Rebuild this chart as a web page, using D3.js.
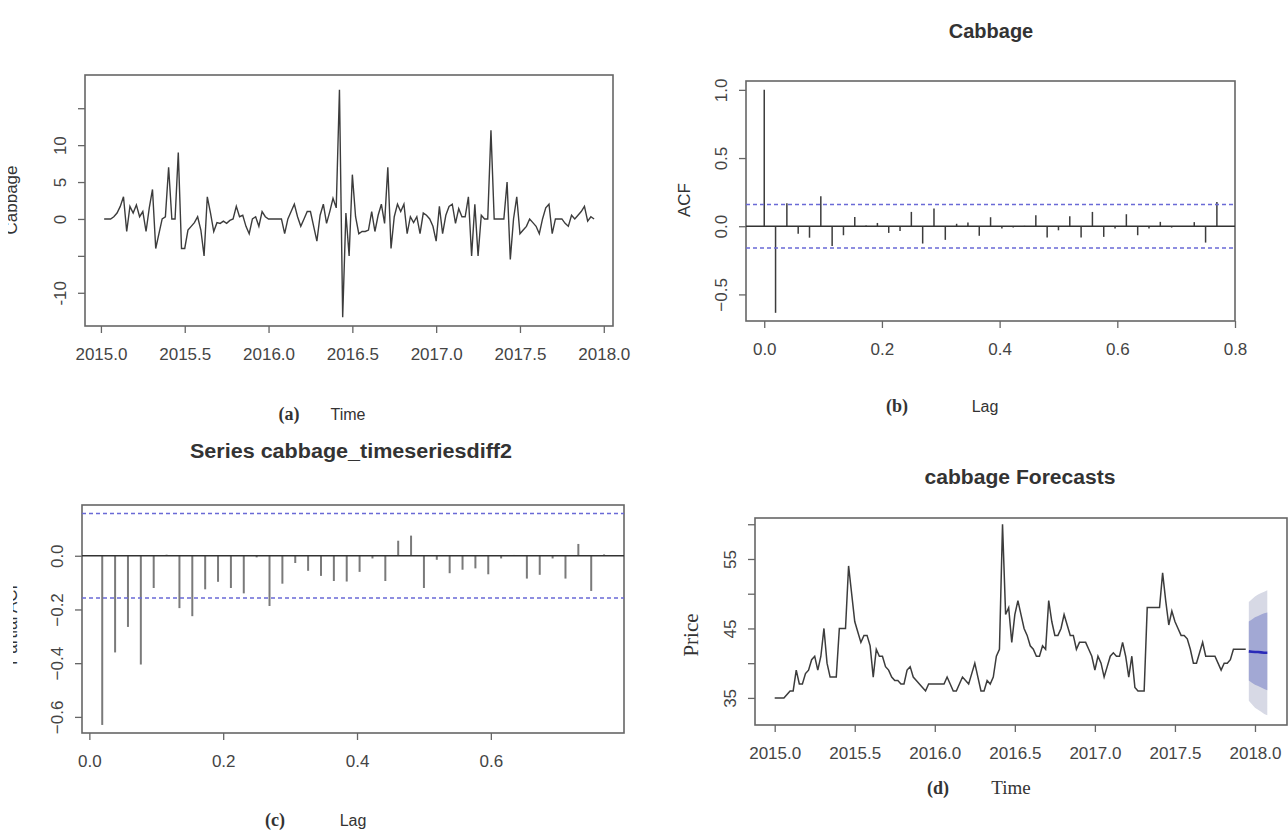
<!DOCTYPE html>
<html>
<head>
<meta charset="utf-8">
<script src="https://cdnjs.cloudflare.com/ajax/libs/d3/7.8.5/d3.min.js"></script>
<style>
body { margin: 0; background: #fff; }
svg { display: block; }
.tick text { font-family: "Liberation Sans", Arial, sans-serif; font-size: 17px; fill: #444; }
.tick line { stroke: #666; stroke-width: 1.3; }
</style>
</head>
<body>
<div id="chart"></div>
<script>
// weekly series, start 2015, frequency 52
var startYear = 2015, freq = 52;

// (a) first difference of cabbage price, weeks 1..153
var cabbageDiff = [
  0, 0, 0, 0.3, 0.8, 1.7, 3, -1.7, 1.7, 0.8,
  1.9, 0.3, 1, -1.7, 1.5, 4, -4, -2, 0, 0.3,
  7, 0, 0, 9, -4, -4, -1.5, -1, -0.5, 0.3,
  -1.5, -5, 3, 0.8, -1.7, -0.5, -0.6, -0.3, -0.6, -0.2,
  0, 1.7, 0.3, 0.5, -1, -2, 0, 0.3, -1, 1,
  0.3, 0, 0, 0, 0, 0, -2, 0, 1, 2,
  0.3, -1, 0, 1, 1, -1, -3, 0.5, 2, -0.6,
  1, 2.8, 1.5, 17.5, -13.3, 0.8, -5, 6, 0.3, -2,
  -1.7, -1.7, -1.5, 1, -1.7, 0.5, 2, -0.6, 7, -4,
  0.3, 2, 1, 2, -2, 0.3, -0.5, 0.3, -2, 0.8,
  0.5, 0, -1, -3, 1.7, -2, 0.5, 1.7, 2, -0.6,
  1.4, 0.3, 0.3, 3, -5, 2, -5, 0.5, 0, 0,
  12, 0, 0, 0, 0, 5, -5.5, 0, 3, -2,
  -1.5, -1, 0, -0.5, -1, -2, 0, 1.5, 2, -2,
  0, 0, 0, -0.6, -1, 0.5, 0, 0.5, 1, 1.7,
  -0.3, 0.3, 0
];

// (b) ACF, lags 0..40
var acfValues = [1.0, -0.635, 0.168, -0.056, -0.084, 0.22, -0.145, -0.066, 0.068, 0.005,
  0.024, -0.049, -0.035, 0.105, -0.127, 0.13, -0.1, 0.018, 0.027, -0.07,
  0.066, -0.017, -0.01, 0.003, 0.08, -0.083, -0.03, 0.073, -0.083, 0.105,
  -0.078, -0.017, 0.088, -0.066, -0.017, 0.032, -0.01, -0.005, 0.03, -0.12, 0.178];
var acfBound = 0.16;

// (c) partial ACF, lags 1..40
var pacfValues = [-0.63, -0.36, -0.265, -0.405, -0.12, 0.004, -0.195, -0.225, -0.125, -0.097,
  -0.12, -0.14, -0.006, -0.187, -0.104, -0.027, -0.056, -0.075, -0.094, -0.096,
  -0.06, -0.01, -0.094, 0.056, 0.075, -0.12, -0.015, -0.065, -0.052, -0.047,
  -0.069, -0.01, 0.003, -0.085, -0.071, -0.01, -0.085, 0.044, -0.131, 0.005];
var pacfBound = 0.157;

// (d) price, weeks 0..153, then 7 week forecast
var price = [
  35, 35, 35, 35, 35.5, 36, 36, 39, 37, 37,
  38.5, 39, 40.5, 41, 39, 41, 45, 40, 38, 38,
  38, 45, 45, 45, 54, 50, 46, 44.5, 43, 44,
  44, 42.5, 38, 42, 41, 41, 39.5, 39, 38, 37.5,
  37.5, 37, 37, 39, 39.5, 38, 37.5, 37, 36.5, 36,
  37, 37, 37, 37, 37, 37, 38, 37, 36, 36,
  37, 38, 37.5, 37, 38.5, 40, 38, 36, 36, 37.5,
  37, 38, 41, 42, 60, 47, 48, 43, 47, 49,
  47, 45, 44, 42.5, 42, 41, 41, 42.5, 42, 49,
  46, 44, 44, 45, 47, 45.5, 44, 44, 42, 43,
  43, 43, 42, 41, 39, 41, 40, 38, 39.5, 41,
  41.5, 41, 41, 43, 41, 38, 41, 36.5, 36, 36,
  36, 48, 48, 48, 48, 48, 53, 49, 45.5, 47.5,
  46, 45, 44, 44, 43.5, 42, 40, 40, 41.5, 43,
  41, 41, 41, 41, 40, 39, 40, 40, 40.5, 42,
  42, 42, 42, 42
];
var fcMean = [41.7, 41.65, 41.6, 41.6, 41.55, 41.5, 41.5];
var fcLo80 = [37.5, 37.2, 36.9, 36.7, 36.5, 36.3, 36.1];
var fcHi80 = [46.0, 46.3, 46.6, 46.8, 47.0, 47.2, 47.3];
var fcLo95 = [34.6, 34.1, 33.6, 33.3, 33.0, 32.7, 32.5];
var fcHi95 = [48.8, 49.2, 49.6, 49.9, 50.1, 50.3, 50.5];

// tick values and labels
var yearTicks = [2015, 2015.5, 2016, 2016.5, 2017, 2017.5, 2018];
var diffTicks = [-10, -5, 0, 5, 10, 15], diffLabels = [-10, 0, 5, 10];
var lagTicksB = [0, 0.2, 0.4, 0.6, 0.8];
var lagTicksC = [0, 0.2, 0.4, 0.6];
var acfTicks = [-0.5, 0, 0.5, 1];
var pacfTicks = [-0.6, -0.4, -0.2, 0];
var priceTicks = [35, 40, 45, 50, 55, 60], priceLabels = [35, 45, 55];

var sans = '"Liberation Sans", Arial, sans-serif';
var serif = '"Liberation Serif", "Times New Roman", serif';

var svg = d3.select("#chart").append("svg")
  .attr("width", 1288)
  .attr("height", 832);

// the y labels of (a) and (c) are cut by the page edge in the original
var defs = svg.append("defs");
defs.append("clipPath").attr("id", "clipA").append("rect")
  .attr("x", 8).attr("y", 100).attr("width", 40).attr("height", 200);
defs.append("clipPath").attr("id", "clipC").append("rect")
  .attr("x", 13).attr("y", 540).attr("width", 40).attr("height", 160);

function panel(box, xDomain, yDomain) {
  return {
    box: box,
    x: d3.scaleLinear().domain(xDomain).range([box.left, box.right]),
    y: d3.scaleLinear().domain(yDomain).range([box.bottom, box.top])
  };
}

function axes(p, xTicks, xFmt, yTicks, yFmt) {
  svg.append("g")
    .attr("transform", "translate(0," + p.box.bottom + ")")
    .call(d3.axisBottom(p.x).tickValues(xTicks).tickFormat(xFmt).tickSize(7).tickPadding(15))
    .call(function (g) { g.select(".domain").remove(); });

  var ya = svg.append("g")
    .attr("transform", "translate(" + p.box.left + ",0)")
    .call(d3.axisLeft(p.y).tickValues(yTicks).tickFormat(yFmt).tickSize(7))
    .call(function (g) { g.select(".domain").remove(); });
  ya.selectAll(".tick text")
    .attr("transform", "rotate(-90)")
    .attr("x", 0).attr("y", -19).attr("dy", 0)
    .attr("text-anchor", "middle");

  svg.append("rect")
    .attr("x", p.box.left).attr("y", p.box.top)
    .attr("width", p.box.right - p.box.left)
    .attr("height", p.box.bottom - p.box.top)
    .attr("fill", "none").attr("stroke", "#666").attr("stroke-width", 1.6);
}

function label(x, y, txt, font, size, weight) {
  return svg.append("text")
    .attr("x", x).attr("y", y)
    .attr("text-anchor", "middle")
    .style("font-family", font).style("font-size", size + "px")
    .style("font-weight", weight || "normal")
    .style("fill", "#333")
    .text(txt);
}

function vlabel(x, y, txt, font, size, clip) {
  var g = svg.append("g");
  if (clip) g.attr("clip-path", "url(#" + clip + ")");
  return g.append("text")
    .attr("transform", "translate(" + x + "," + y + ") rotate(-90)")
    .attr("text-anchor", "middle")
    .style("font-family", font).style("font-size", size + "px")
    .style("fill", "#333")
    .text(txt);
}

function fmtOne(d) { return d3.format(".1f")(d); }

// ---------- (a) differenced series ----------
var pa = panel({ left: 85, right: 613, top: 75, bottom: 326 }, [2014.905, 2018.055], [-14.5, 19.5]);
axes(pa, yearTicks, fmtOne, diffTicks, function (d) { return diffLabels.indexOf(d) >= 0 ? d : ""; });

svg.append("path")
  .datum(cabbageDiff)
  .attr("fill", "none")
  .attr("stroke", "#3c3c3c")
  .attr("stroke-width", 1.4)
  .attr("d", d3.line()
    .x(function (d, i) { return pa.x(startYear + (i + 1) / freq); })
    .y(function (d) { return pa.y(d); }));

vlabel(17, 200, "Cabbage", sans, 17, "clipA");
label(289, 420, "(a)", serif, 18, "bold");
label(348, 420, "Time", sans, 16);

// ---------- (b) ACF ----------
var pb = panel({ left: 746, right: 1235, top: 81, bottom: 321 }, [-0.031, 0.8], [-0.695, 1.065]);
axes(pb, lagTicksB, fmtOne, acfTicks, fmtOne);

svg.append("g").selectAll("line")
  .data(acfValues)
  .enter().append("line")
  .attr("x1", function (d, i) { return pb.x(i / freq); })
  .attr("x2", function (d, i) { return pb.x(i / freq); })
  .attr("y1", pb.y(0))
  .attr("y2", function (d) { return pb.y(d); })
  .attr("stroke", "#3c3c3c").attr("stroke-width", 1.5);

svg.append("line")
  .attr("x1", pb.box.left).attr("x2", pb.box.right)
  .attr("y1", pb.y(0)).attr("y2", pb.y(0))
  .attr("stroke", "#333").attr("stroke-width", 1.6);

[acfBound, -acfBound].forEach(function (b) {
  svg.append("line")
    .attr("x1", pb.box.left).attr("x2", pb.box.right)
    .attr("y1", pb.y(b)).attr("y2", pb.y(b))
    .attr("stroke", "#6a6ad6").attr("stroke-width", 1.5)
    .attr("stroke-dasharray", "4,3");
});

label(991, 38, "Cabbage", sans, 20, "bold");
vlabel(690, 200, "ACF", sans, 17);
label(897, 412, "(b)", serif, 18, "bold");
label(985, 412, "Lag", sans, 16);

// ---------- (c) partial ACF ----------
var pc = panel({ left: 82, right: 624, top: 505, bottom: 733 }, [-0.011, 0.799], [-0.66, 0.189]);
axes(pc, lagTicksC, fmtOne, pacfTicks, fmtOne);

svg.append("g").selectAll("line")
  .data(pacfValues)
  .enter().append("line")
  .attr("x1", function (d, i) { return pc.x((i + 1) / freq); })
  .attr("x2", function (d, i) { return pc.x((i + 1) / freq); })
  .attr("y1", pc.y(0))
  .attr("y2", function (d) { return pc.y(d); })
  .attr("stroke", "#7a7a7a").attr("stroke-width", 2);

svg.append("line")
  .attr("x1", pc.box.left).attr("x2", pc.box.right)
  .attr("y1", pc.y(0)).attr("y2", pc.y(0))
  .attr("stroke", "#333").attr("stroke-width", 1.6);

[pacfBound, -pacfBound].forEach(function (b) {
  svg.append("line")
    .attr("x1", pc.box.left).attr("x2", pc.box.right)
    .attr("y1", pc.y(b)).attr("y2", pc.y(b))
    .attr("stroke", "#6a6ad6").attr("stroke-width", 1.5)
    .attr("stroke-dasharray", "4,3");
});

label(351, 458, "Series  cabbage_timeseriesdiff2", sans, 20, "bold")
  .attr("textLength", 322).attr("lengthAdjust", "spacingAndGlyphs");
vlabel(17, 622, "Partial ACF", sans, 17, "clipC");
label(275, 826, "(c)", serif, 18, "bold");
label(353, 826, "Lag", sans, 16);

// ---------- (d) forecasts ----------
var pd = panel({ left: 755, right: 1287, top: 518, bottom: 725 }, [2014.877, 2018.2], [31.1, 60.9]);

var fcIdx = fcMean.map(function (d, i) { return price.length + i; });
var fcTime = function (d, i) { return pd.x(startYear + fcIdx[i] / freq); };

svg.append("path")
  .datum(fcMean)
  .attr("fill", "#d7d9e5")
  .attr("d", d3.area().x(fcTime)
    .y0(function (d, i) { return pd.y(fcLo95[i]); })
    .y1(function (d, i) { return pd.y(fcHi95[i]); }));
svg.append("path")
  .datum(fcMean)
  .attr("fill", "#a2a8d4")
  .attr("d", d3.area().x(fcTime)
    .y0(function (d, i) { return pd.y(fcLo80[i]); })
    .y1(function (d, i) { return pd.y(fcHi80[i]); }));

axes(pd, yearTicks, fmtOne, priceTicks, function (d) { return priceLabels.indexOf(d) >= 0 ? d : ""; });

svg.append("path")
  .datum(price)
  .attr("fill", "none")
  .attr("stroke", "#3c3c3c")
  .attr("stroke-width", 1.5)
  .attr("d", d3.line()
    .x(function (d, i) { return pd.x(startYear + i / freq); })
    .y(function (d) { return pd.y(d); }));

svg.append("path")
  .datum(fcMean)
  .attr("fill", "none")
  .attr("stroke", "#2a2ab8")
  .attr("stroke-width", 2.6)
  .attr("d", d3.line().x(fcTime).y(function (d) { return pd.y(d); }));

label(1020, 484, "cabbage Forecasts", sans, 20, "bold")
  .attr("textLength", 191).attr("lengthAdjust", "spacingAndGlyphs");
vlabel(698, 635, "Price", serif, 21);
label(938, 794, "(d)", serif, 18, "bold");
label(1011, 794, "Time", serif, 19);
</script>
</body>
</html>
